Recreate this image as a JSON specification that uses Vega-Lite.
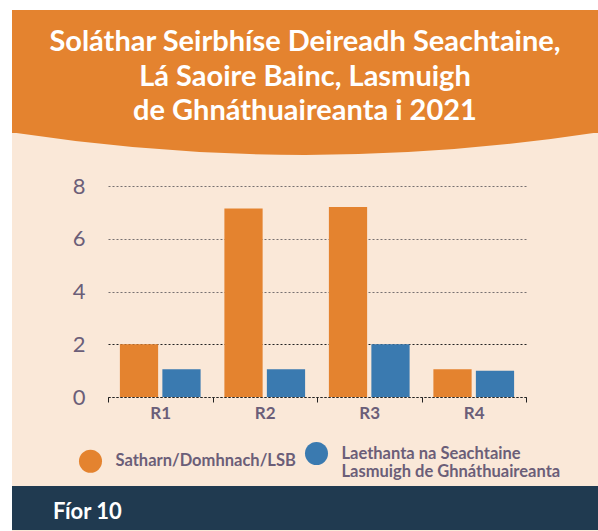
{
  "$schema": "https://vega.github.io/schema/vega-lite/v6.json",
  "background": "#fae8d8",
  "padding": 0,
  "spacing": 0,
  "resolve": {"scale": {"color": "independent"}, "legend": {"color": "independent"}},
  "config": {"view": {"stroke": null}, "font": "Lato"},
  "datasets": {
    "bars": [
      {"region": "R1", "series": "Satharn/Domhnach/LSB", "value": 2.0},
      {"region": "R1", "series": "Laethanta na Seachtaine Lasmuigh de Ghnáthuaireanta", "value": 1.05},
      {"region": "R2", "series": "Satharn/Domhnach/LSB", "value": 7.15},
      {"region": "R2", "series": "Laethanta na Seachtaine Lasmuigh de Ghnáthuaireanta", "value": 1.05},
      {"region": "R3", "series": "Satharn/Domhnach/LSB", "value": 7.2},
      {"region": "R3", "series": "Laethanta na Seachtaine Lasmuigh de Ghnáthuaireanta", "value": 2.0},
      {"region": "R4", "series": "Satharn/Domhnach/LSB", "value": 1.05},
      {"region": "R4", "series": "Laethanta na Seachtaine Lasmuigh de Ghnáthuaireanta", "value": 1.0}
    ],
    "blank": [{}]
  },
  "hconcat": [
    {
      "width": 12, "height": 531,
      "data": {"name": "blank"},
      "mark": {"type": "point", "opacity": 0},
      "view": {"fill": "white", "stroke": null}
    },
    {
      "spacing": 0,
      "resolve": {"scale": {"color": "independent"}, "legend": {"color": "independent"}},
      "vconcat": [
        {
          "width": 586, "height": 10,
          "data": {"name": "blank"},
          "mark": {"type": "point", "opacity": 0},
          "view": {"fill": "white", "stroke": null}
        },
        {
          "width": 586, "height": 123,
          "data": {"name": "blank"},
          "mark": {
            "type": "text",
            "text": ["Soláthar Seirbhíse Deireadh Seachtaine,", "Lá Saoire Bainc, Lasmuigh", "de Ghnáthuaireanta i 2021"],
            "color": "white", "font": "Lato", "fontWeight": "bold", "fontSize": 29,
            "lineHeight": 34.5, "align": "center", "baseline": "alphabetic", "dy": -20.5
          },
          "view": {"fill": "#e4832f", "stroke": null}
        },
        {
          "width": 586, "height": 42,
          "data": {"name": "blank"},
          "mark": {
            "type": "point", "clip": true,
            "shape": "M -1 -0.074 L 1 -0.074 Q 0 0.08 -1 -0.074 Z",
            "size": 343396, "filled": true, "color": "#e4832f", "opacity": 1, "strokeWidth": 0
          }
        },
        {
          "width": 586, "height": 211,
          "data": {"name": "bars"},
          "mark": {"type": "bar"},
          "encoding": {
            "x": {
              "field": "region", "type": "nominal", "sort": ["R1", "R2", "R3", "R4"],
              "scale": {"range": [96, 514], "paddingInner": 0, "paddingOuter": 0},
              "axis": {
                "title": null, "labelAngle": 0, "tickBand": "extent",
                "domainDash": [2, 2], "domainColor": "#222", "tickColor": "#222", "tickSize": 5,
                "labelFont": "Lato", "labelFontWeight": "bold", "labelFontSize": 17,
                "labelColor": "#6b5e78", "labelPadding": 3, "grid": false
              }
            },
            "xOffset": {
              "field": "series", "type": "nominal",
              "sort": ["Satharn/Domhnach/LSB", "Laethanta na Seachtaine Lasmuigh de Ghnáthuaireanta"],
              "scale": {"paddingInner": 0.1, "paddingOuter": 0.28}
            },
            "y": {
              "field": "value", "type": "quantitative",
              "scale": {"domain": [0, 8]},
              "axis": {
                "title": null, "values": [0, 2, 4, 6, 8], "domain": false, "ticks": false,
                "tickSize": 0, "labelPadding": 23, "offset": -96,
                "gridDash": [2, 2],
                "gridColor": {"condition": {"test": "datum.value <= 2", "value": "#222"}, "value": "#777070"},
                "labelFont": "Lato", "labelFontSize": 22, "labelColor": "#6b5e78"
              }
            },
            "color": {
              "field": "series", "type": "nominal",
              "scale": {
                "domain": ["Satharn/Domhnach/LSB", "Laethanta na Seachtaine Lasmuigh de Ghnáthuaireanta"],
                "range": ["#e4832f", "#3a7ab0"]
              },
              "legend": {
                "orient": "none", "legendX": 61.5, "legendY": 250.5, "direction": "horizontal",
                "title": null, "symbolType": "circle", "symbolSize": 530, "symbolStrokeWidth": 0,
                "symbolOpacity": 1,
                "labelFont": "Lato", "labelFontWeight": "bold", "labelFontSize": 16.5,
                "labelColor": "#6b5e78", "labelLimit": 400, "labelOffset": 13,
                "columnPadding": 8, "padding": 5, "labelBaseline": "middle",
                "labelExpr": "datum.label == 'Laethanta na Seachtaine Lasmuigh de Ghnáthuaireanta' ? ['Laethanta na Seachtaine', 'Lasmuigh de Ghnáthuaireanta'] : datum.label"
              }
            }
          }
        },
        {
          "width": 586, "height": 44,
          "data": {"name": "blank"},
          "mark": {
            "type": "text", "text": "Fíor 10", "align": "left", "baseline": "middle",
            "dx": -252, "dy": 4, "color": "white", "font": "Lato", "fontWeight": "bold", "fontSize": 22
          },
          "view": {"fill": "#203a50", "stroke": null}
        }
      ]
    }
  ]
}
